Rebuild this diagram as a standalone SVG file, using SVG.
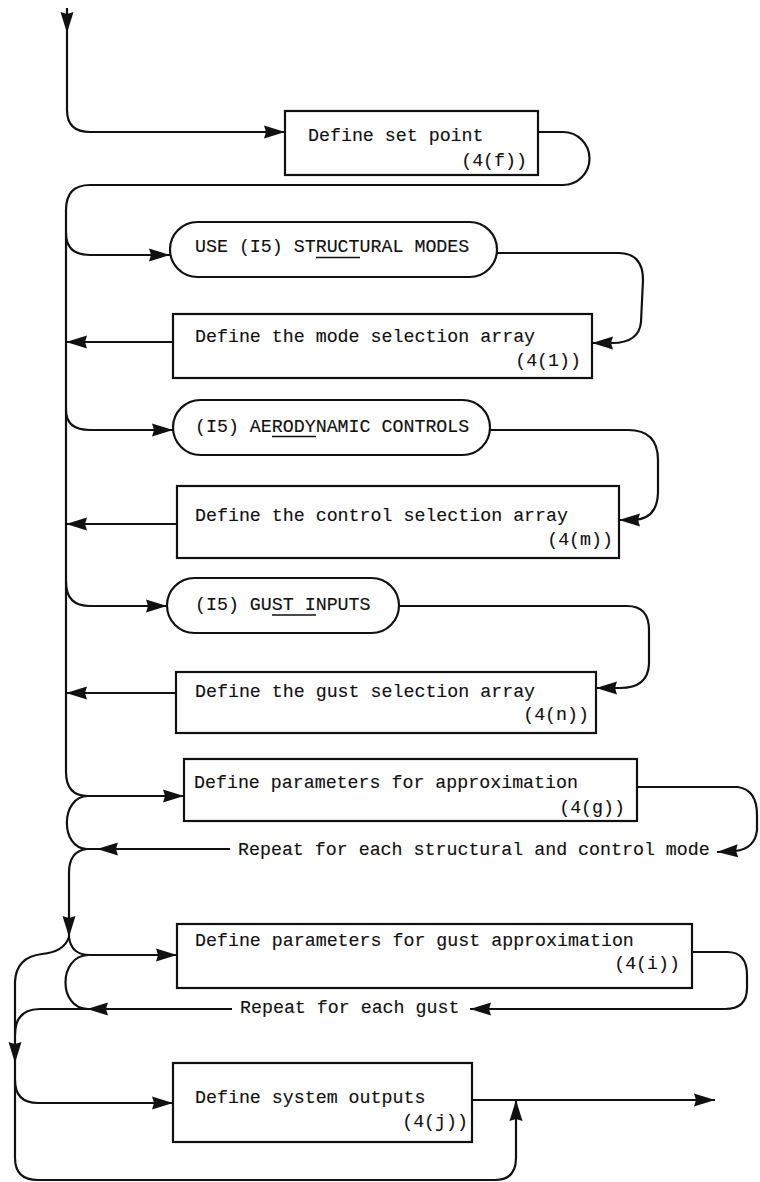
<svg xmlns="http://www.w3.org/2000/svg" width="760" height="1182" viewBox="0 0 760 1182">
<style>
.box{fill:#fff;stroke:#111;stroke-width:2.2}
.c{fill:none;stroke:#111;stroke-width:2.2}
.a{marker-end:url(#ah)}
text{font-family:"Liberation Mono","DejaVu Sans Mono",monospace;font-size:18.3px;fill:#111;stroke:#111;stroke-width:0.15}
.r{text-anchor:end}
.u{stroke:#111;stroke-width:1.6}
</style>
<defs>
<marker id="ah" markerUnits="userSpaceOnUse" markerWidth="21" markerHeight="14" refX="21" refY="7" orient="auto">
<path d="M0,0.5 L21,7 L0,13.5 L2,7 z" fill="#111"/>
</marker>
</defs>
<rect width="760" height="1182" fill="#fff"/>
<g id="connectors">
<path class="c a" d="M67 8 L67 33"/>
<path class="c a" d="M67 33 L67 110 Q67 132 90 132 L285 132"/>
<path class="c" d="M538 132 L563 132 A26.5 26.5 0 0 1 563 185 L90 185 Q66 185 66 210 L66 772 Q66 796 88 796"/>
<path class="c a" d="M88 796 L184 796"/>
<path class="c a" d="M66 233 Q66 255 90 255 L170 255"/>
<path class="c a" d="M497 253 L618 253 Q643 253 643 280 L641 322 Q639 343 612 343 L592 343"/>
<path class="c a" d="M173 342 L66 342"/>
<path class="c a" d="M66 410 Q66 430 90 430 L173 430"/>
<path class="c a" d="M490 430 L628 430 Q658 430 658 460 L658 493 Q657 520 632 520 L619 520"/>
<path class="c a" d="M177 524 L66 524"/>
<path class="c a" d="M66 582 Q66 606 90 606 L167 606"/>
<path class="c a" d="M399 606 L627 606 Q649 606 649 630 L649 664 Q648 688 620 688 L596 688"/>
<path class="c a" d="M176 693 L66 693"/>
<path class="c a" d="M637 787 L738 787 Q757 790 757 815 L757 830 Q755 849 735 851 L717 852"/>
<path class="c a" d="M230 849 L97 849"/>
<path class="c" d="M97 849 L87 849 C60 849 60 796 88 796"/>
<path class="c a" d="M87 849 Q69 851 69 873 L69 937"/>
<path class="c a" d="M69 937 Q71 955 90 955 L177 955"/>
<path class="c a" d="M692 952 L727 952 Q747 952 747 975 L747 988 Q747 1009 725 1009 L470 1009"/>
<path class="c a" d="M232 1009 L87 1009"/>
<path class="c" d="M88 955 C58 956 58 1009 88 1009 L40 1009 Q15 1009 15 1035"/>
<path class="c a" d="M69 937 Q64 952 42 954 Q16 957 15 982 L15 1063"/>
<path class="c" d="M15 1063 L15 1158 Q15 1180 38 1180 L495 1180 Q516 1180 516 1158 L516 1120"/>
<path class="c a" d="M516 1120 L516 1100"/>
<path class="c a" d="M15 1080 Q15 1103 38 1103 L173 1103"/>
<path class="c a" d="M472 1100 L715 1100"/>
</g>
<g id="n_setpoint">
<rect class="box" x="285" y="111" width="253" height="64"/>
<text x="308" y="141">Define set point</text>
<text class="r" x="527" y="166">(4(f))</text>
</g>
<g id="n_structural">
<rect class="box" x="170" y="222" width="327" height="55" rx="27.5"/>
<text x="195" y="252">USE (I5) STRUCTURAL MODES</text>
<line class="u" x1="316" y1="257.5" x2="360" y2="257.5"/>
</g>
<g id="n_modesel">
<rect class="box" x="173" y="314" width="419" height="64"/>
<text x="195" y="342">Define the mode selection array</text>
<text class="r" x="581" y="366">(4(1))</text>
</g>
<g id="n_aero">
<rect class="box" x="173" y="400" width="317" height="55" rx="27.5"/>
<text x="195" y="432">(I5) AERODYNAMIC CONTROLS</text>
<line class="u" x1="272" y1="436.5" x2="316" y2="436.5"/>
</g>
<g id="n_ctrlsel">
<rect class="box" x="177" y="486" width="442" height="72"/>
<text x="195" y="521">Define the control selection array</text>
<text class="r" x="613" y="545">(4(m))</text>
</g>
<g id="n_gust">
<rect class="box" x="167" y="578" width="232" height="55" rx="27.5"/>
<text x="195" y="610">(I5) GUST INPUTS</text>
<line class="u" x1="272" y1="615" x2="316" y2="615"/>
</g>
<g id="n_gustsel">
<rect class="box" x="176" y="672" width="420" height="61"/>
<text x="195" y="697">Define the gust selection array</text>
<text class="r" x="589" y="720">(4(n))</text>
</g>
<g id="n_approx">
<rect class="box" x="184" y="759" width="453" height="62"/>
<text x="194" y="788">Define parameters for approximation</text>
<text class="r" x="625" y="813">(4(g))</text>
</g>
<g id="l_repeat1">
<text x="238" y="855">Repeat for each structural and control mode</text>
</g>
<g id="n_gustapprox">
<rect class="box" x="177" y="924" width="515" height="64"/>
<text x="195" y="946">Define parameters for gust approximation</text>
<text class="r" x="680" y="969">(4(i))</text>
</g>
<g id="l_repeat2">
<text x="240" y="1013">Repeat for each gust</text>
</g>
<g id="n_outputs">
<rect class="box" x="173" y="1063" width="299" height="79"/>
<text x="195" y="1103">Define system outputs</text>
<text class="r" x="468" y="1127">(4(j))</text>
</g>
</svg>
